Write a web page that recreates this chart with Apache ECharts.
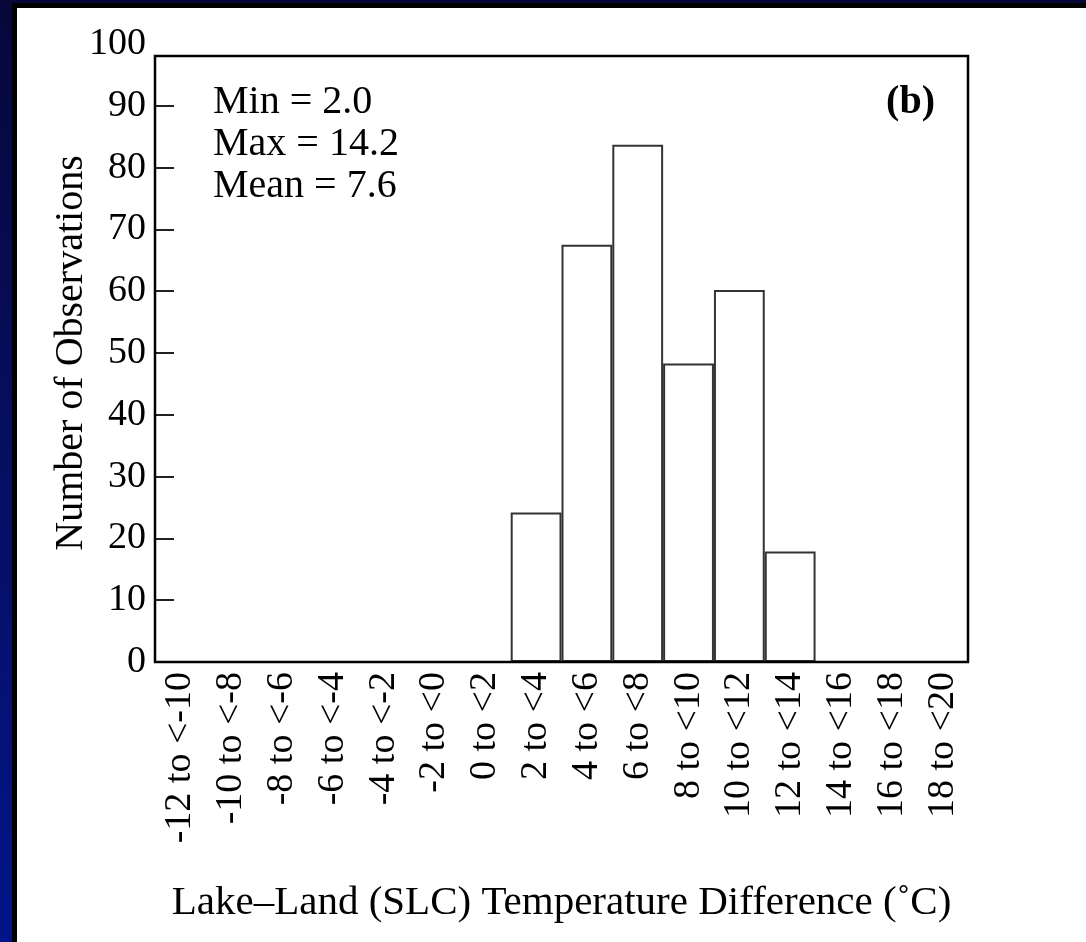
<!DOCTYPE html>
<html>
<head>
<meta charset="utf-8">
<script src="https://cdn.jsdelivr.net/npm/echarts@6/dist/echarts.min.js"></script>
<style>
  html, body { margin: 0; padding: 0; width: 1086px; height: 942px; overflow: hidden;
    background: linear-gradient(to bottom, #07073a 0%, #06106a 60%, #021489 100%); }
  #wrap { position: absolute; left: 12px; top: 3px; border-left: 5px solid #000; border-top: 5px solid #000; }
  #mainChart { width: 1069px; height: 934px; background: #fff; }
</style>
</head>
<body>
<div id="wrap"><div id="mainChart"></div></div>
<script>
// histogram bins and counts
var categories = ['-12 to <-10', '-10 to <-8', '-8 to <-6', '-6 to <-4', '-4 to <-2', '-2 to <0',
    '0 to <2', '2 to <4', '4 to <6', '6 to <8', '8 to <10', '10 to <12', '12 to <14',
    '14 to <16', '16 to <18', '18 to <20'];
var counts = [0, 0, 0, 0, 0, 0, 0, 24.2, 67.5, 83.7, 48.3, 60.2, 17.9, 0, 0, 0];
var yTicks = [10, 20, 30, 40, 50, 60, 70, 80, 90];
var statsText = 'Min = 2.0\nMax = 14.2\nMean = 7.6';

var serif = "'Liberation Serif', 'Times New Roman', serif";
var myChart = echarts.init(document.getElementById('mainChart'));

myChart.setOption({
    animation: false,
    title: [{
        text: statsText,
        left: 191,
        top: 68,
        textStyle: { fontFamily: serif, fontSize: 40, fontWeight: 'normal', color: '#000', lineHeight: 42 }
    }, {
        text: '(b)',
        right: 146,
        top: 69,
        textStyle: { fontFamily: serif, fontSize: 40, fontWeight: 'bold', color: '#000', lineHeight: 42 }
    }],
    grid: { left: 138, right: 118, top: 36, bottom: 280 },
    xAxis: {
        type: 'category',
        data: categories,
        name: 'Lake\u2013Land (SLC) Temperature Difference (\u02DAC)',
        nameLocation: 'middle',
        nameGap: 221,
        nameMoveOverlap: false,
        nameTextStyle: { fontFamily: serif, fontSize: 41, color: '#000' },
        axisLine: { show: false },
        axisTick: { show: false },
        axisLabel: { interval: 0, rotate: 90, margin: 10, fontFamily: serif, fontSize: 38, color: '#000' }
    },
    yAxis: {
        type: 'value',
        min: 0,
        max: 100,
        interval: 10,
        name: 'Number of Observations',
        nameLocation: 'middle',
        nameRotate: 90,
        nameGap: 64,
        nameMoveOverlap: false,
        nameTextStyle: { fontFamily: serif, fontSize: 40, color: '#000' },
        axisLine: { show: false },
        axisTick: { show: true, inside: true, length: 19, customValues: yTicks,
            lineStyle: { color: '#222', width: 2 } },
        splitLine: { show: false },
        axisLabel: { margin: 9, fontFamily: serif, fontSize: 38, color: '#000' }
    },
    series: [{
        type: 'bar',
        data: counts,
        barCategoryGap: 0,
        itemStyle: { color: '#fff', borderColor: '#333', borderWidth: 2 }
    }],
    graphic: [{
        type: 'rect',
        shape: { x: 138, y: 48, width: 813, height: 606 },
        style: { fill: 'none', stroke: '#000', lineWidth: 2.5 },
        z: 100
    }]
});
</script>
</body>
</html>
